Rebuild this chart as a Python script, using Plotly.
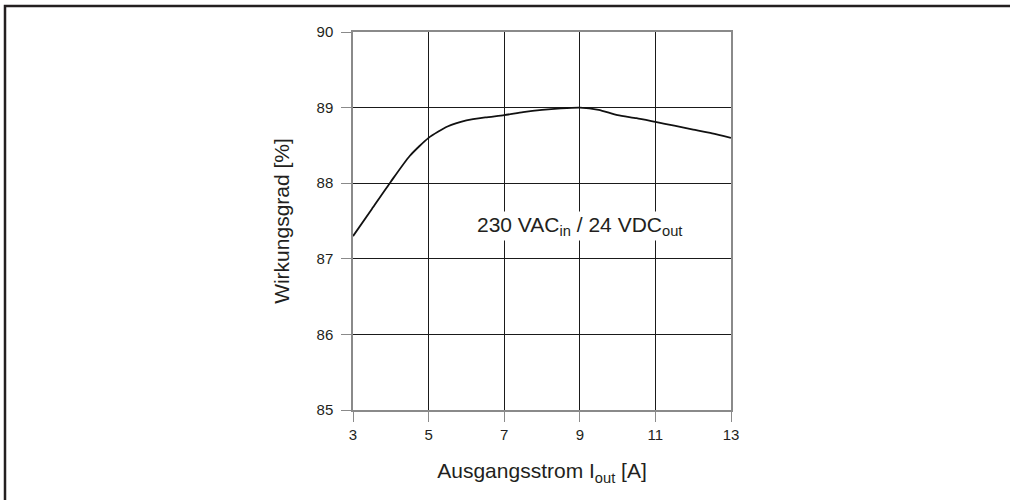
import plotly.graph_objects as go

current_a = [3, 3.5, 4, 4.5, 5, 5.5, 6, 6.5, 7, 7.5, 8, 8.5, 9, 9.5, 10, 10.5, 11, 11.5, 12, 12.5, 13]
efficiency = [87.30, 87.66, 88.02, 88.36, 88.60, 88.75, 88.83, 88.87, 88.90, 88.94, 88.97, 88.99,
              89.00, 88.97, 88.90, 88.86, 88.81, 88.76, 88.71, 88.66, 88.60]
x_ticks = [3, 5, 7, 9, 11, 13]
y_ticks = [85, 86, 87, 88, 89, 90]

FONT = "Liberation Sans, Arial, sans-serif"
GRID = "#1a1a1a"
FRAME = "#8a8a8a"
TXT = "#231f20"

fig = go.Figure()
fig.add_trace(go.Scatter(x=current_a, y=efficiency, mode="lines",
                         line=dict(color="#111111", width=1.8, shape="spline", smoothing=0.6),
                         showlegend=False, hoverinfo="skip"))

L, R, T, B = 353, 279, 32, 90
W, H = 1010, 500
pw, ph = W - L - R, H - T - B

fig.update_layout(
    width=W, height=H,
    margin=dict(l=L, r=R, t=T, b=B),
    paper_bgcolor="white", plot_bgcolor="white",
    font=dict(family=FONT, size=15, color=TXT),
    xaxis=dict(range=[3, 13], tickvals=x_ticks, ticks="outside", ticklen=10, tickcolor=FRAME,
               showgrid=True, gridcolor=GRID, gridwidth=1,
               showline=True, linecolor=FRAME, linewidth=1.5, mirror=True, zeroline=False,
               tickfont=dict(size=15, family=FONT, color=TXT),
               title=dict(text="Ausgangsstrom I<sub>out</sub> [A]", font=dict(size=21, family=FONT, color=TXT),
                          standoff=22)),
    yaxis=dict(range=[85, 90], tickvals=y_ticks, ticks="outside", ticklen=10, tickcolor=FRAME,
               ticklabelstandoff=5,
               showgrid=True, gridcolor=GRID, gridwidth=1,
               showline=True, linecolor=FRAME, linewidth=1.5, mirror=True, zeroline=False,
               tickfont=dict(size=15, family=FONT, color=TXT),
               title=dict(text="Wirkungsgrad [%]", font=dict(size=21, family=FONT, color=TXT),
                          standoff=21)),
    annotations=[dict(x=9, y=87.43, xref="x", yref="y", showarrow=False,
                      text="230 VAC<sub>in</sub> / 24 VDC<sub>out</sub>",
                      font=dict(size=21, family=FONT, color=TXT), bgcolor="white")],
    shapes=[dict(type="rect", xref="paper", yref="paper",
                 x0=(5 - L) / pw, x1=(1040 - L) / pw,
                 y0=(H - B - 530) / ph, y1=(H - B - 6) / ph,
                 line=dict(color=TXT, width=2.5), fillcolor="rgba(0,0,0,0)", layer="above")],
)

fig.write_html("out.html", config={"displayModeBar": False},
               post_script="document.body.style.margin='0';document.body.style.overflow='hidden';")
